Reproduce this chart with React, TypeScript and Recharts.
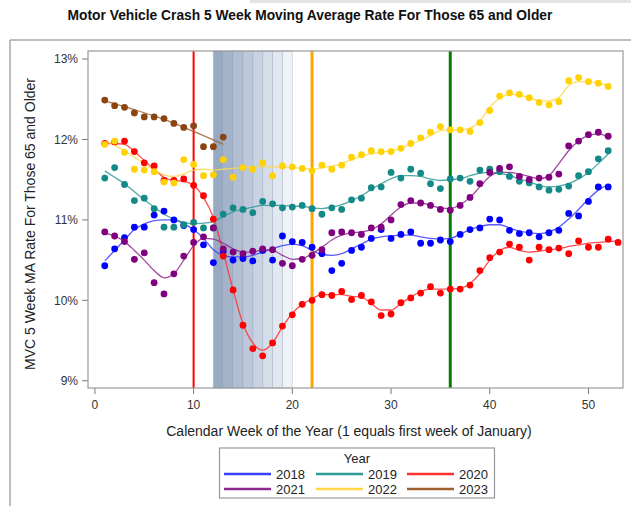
import { ComposedChart, Scatter, Line, XAxis, YAxis, ReferenceLine, ReferenceArea } from 'recharts';

// weeks of the year
const weeks = [1, 2, 3, 4, 5, 6, 7, 8, 9, 10, 11, 12, 13, 14, 15, 16, 17, 18, 19, 20, 21, 22, 23, 24, 25, 26,
  27, 28, 29, 30, 31, 32, 33, 34, 35, 36, 37, 38, 39, 40, 41, 42, 43, 44, 45, 46, 47, 48, 49, 50, 51, 52];
const weeks53 = [...weeks, 53];
const weeks2023 = [1, 2, 3, 4, 5, 6, 7, 8, 9, 10, 11, 12, 13];
const fitWeeks2023 = [1, 4, 7, 10, 13];

// 5 week moving average rate (%), one dot per week
const rate2018 = [10.43, 10.64, 10.78, 10.91, 10.91, 11.06, 11.11, 11.0, 10.93, 10.88, 10.69, 10.47, 10.61, 10.5, 10.52, 10.49, 10.62, 10.5, 10.8, 10.73, 10.72, 10.66, 10.58, 10.37, 10.46, 10.62,
  10.66, 10.77, 10.88, 10.77, 10.82, 10.85, 10.71, 10.71, 10.75, 10.73, 10.82, 10.88, 10.9, 11.01, 11.0, 10.87, 10.83, 10.84, 10.79, 10.84, 10.87, 11.08, 11.05, 11.23, 11.41, 11.41];
const rate2019 = [11.52, 11.65, 11.44, 11.24, 11.27, 11.14, 10.91, 10.91, 10.94, 10.97, 10.9, 10.9, 11.07, 11.15, 11.13, 11.09, 11.23, 11.2, 11.15, 11.16, 11.18, 11.14, 11.07, 11.15, 11.13, 11.25,
  11.27, 11.4, 11.41, 11.59, 11.52, 11.63, 11.58, 11.45, 11.39, 11.51, 11.52, 11.48, 11.62, 11.63, 11.6, 11.54, 11.48, 11.46, 11.41, 11.37, 11.38, 11.42, 11.55, 11.6, 11.76, 11.86];
const rate2020 = [11.95, 11.97, 11.98, 11.85, 11.71, 11.67, 11.49, 11.49, 11.51, 11.43, 11.3, 11.01, 10.55, 10.13, 9.69, 9.4, 9.31, 9.47, 9.68, 9.82, 9.95, 10.0, 10.07, 10.06, 10.11, 10.01,
  10.06, 9.98, 9.81, 9.83, 9.97, 10.03, 10.09, 10.17, 10.09, 10.14, 10.14, 10.19, 10.37, 10.53, 10.6, 10.7, 10.66, 10.5, 10.66, 10.63, 10.65, 10.58, 10.74, 10.66, 10.66, 10.76, 10.72];
const rate2021 = [10.85, 10.8, 10.73, 10.51, 10.59, 10.22, 10.08, 10.33, 10.55, 10.72, 10.79, 10.9, 10.64, 10.6, 10.58, 10.61, 10.64, 10.63, 10.46, 10.43, 10.51, 10.56, 10.63, 10.84, 10.85, 10.84,
  10.82, 10.9, 10.91, 11.0, 11.19, 11.24, 11.21, 11.18, 11.13, 11.12, 11.18, 11.28, 11.45, 11.59, 11.64, 11.66, 11.54, 11.5, 11.52, 11.53, 11.57, 11.92, 11.98, 12.06, 12.09, 12.04];
const rate2022 = [11.94, 11.98, 11.84, 11.63, 11.62, 11.6, 11.47, 11.46, 11.75, 11.69, 11.55, 11.56, 11.75, 11.53, 11.65, 11.63, 11.71, 11.55, 11.67, 11.66, 11.64, 11.61, 11.68, 11.63, 11.68, 11.78,
  11.81, 11.86, 11.85, 11.85, 11.89, 11.95, 12.02, 12.09, 12.16, 12.12, 12.12, 12.1, 12.21, 12.36, 12.54, 12.58, 12.56, 12.52, 12.46, 12.43, 12.47, 12.73, 12.77, 12.72, 12.7, 12.66];
const rate2023 = [12.49, 12.42, 12.4, 12.33, 12.28, 12.28, 12.26, 12.2, 12.15, 12.17, 11.91, 11.91, 12.03];

// smoothed curves
const fit2018 = [10.49, 10.62, 10.75, 10.88, 10.95, 10.99, 11.0, 11.0, 10.95, 10.88, 10.77, 10.63, 10.56, 10.54, 10.54, 10.56, 10.6, 10.64, 10.68, 10.7, 10.68, 10.62, 10.57, 10.56, 10.58, 10.64,
  10.7, 10.76, 10.79, 10.8, 10.81, 10.81, 10.79, 10.77, 10.76, 10.77, 10.82, 10.88, 10.92, 10.94, 10.94, 10.9, 10.86, 10.84, 10.83, 10.85, 10.91, 11.01, 11.13, 11.26, 11.37, 11.44];
const fit2019 = [11.61, 11.53, 11.45, 11.35, 11.25, 11.16, 11.07, 11.01, 10.97, 10.95, 10.96, 10.98, 11.04, 11.1, 11.13, 11.16, 11.18, 11.18, 11.18, 11.17, 11.17, 11.15, 11.14, 11.16, 11.19, 11.24,
  11.3, 11.38, 11.45, 11.51, 11.55, 11.55, 11.54, 11.51, 11.49, 11.5, 11.51, 11.55, 11.58, 11.59, 11.58, 11.55, 11.51, 11.47, 11.43, 11.41, 11.42, 11.45, 11.51, 11.59, 11.7, 11.82];
const fit2020 = [11.95, 11.95, 11.94, 11.85, 11.74, 11.63, 11.53, 11.49, 11.48, 11.43, 11.28, 11.03, 10.6, 10.13, 9.71, 9.47, 9.38, 9.47, 9.67, 9.84, 9.95, 10.02, 10.07, 10.07, 10.07, 10.05,
  10.04, 9.96, 9.88, 9.88, 9.96, 10.04, 10.11, 10.14, 10.14, 10.14, 10.15, 10.21, 10.33, 10.5, 10.62, 10.66, 10.62, 10.6, 10.61, 10.63, 10.64, 10.67, 10.69, 10.71, 10.72, 10.73, 10.74];
const fit2021 = [10.84, 10.8, 10.73, 10.62, 10.5, 10.37, 10.28, 10.33, 10.5, 10.68, 10.77, 10.76, 10.71, 10.64, 10.6, 10.6, 10.63, 10.62, 10.56, 10.51, 10.52, 10.58, 10.66, 10.75, 10.81, 10.84,
  10.85, 10.88, 10.95, 11.06, 11.16, 11.21, 11.21, 11.18, 11.15, 11.14, 11.19, 11.28, 11.41, 11.54, 11.59, 11.59, 11.57, 11.54, 11.51, 11.55, 11.7, 11.86, 11.98, 12.05, 12.07, 12.03];
const fit2022 = [11.98, 11.93, 11.86, 11.78, 11.7, 11.62, 11.56, 11.54, 11.57, 11.62, 11.63, 11.62, 11.63, 11.64, 11.65, 11.66, 11.66, 11.66, 11.66, 11.65, 11.64, 11.63, 11.65, 11.67, 11.7, 11.75,
  11.79, 11.82, 11.84, 11.86, 11.89, 11.94, 11.99, 12.05, 12.11, 12.12, 12.12, 12.14, 12.23, 12.4, 12.51, 12.56, 12.55, 12.52, 12.48, 12.48, 12.52, 12.67, 12.72, 12.72, 12.7, 12.67];
const fit2023 = [12.48, 12.37, 12.25, 12.1, 11.94];

const yearLabels = ['2018', '2019', '2020', '2021', '2022', '2023'];
const dotColors = ['#0000FF', '#138A87', '#FF0000', '#800080', '#FFD200', '#8B4513'];
const lineColors = ['#3D3DFF', '#2E9A94', '#FF3030', '#8E2A8E', '#FFD84A', '#A0602E'];

// shaded weeks (12 to 20), darkest first
const bandStarts = [12, 13, 14, 15, 16, 17, 18, 19];
const bandColors = ['#98A9C2', '#A4B3CA', '#B1BED2', '#BDC8DA', '#C9D2E1', '#D5DDE9', '#E2E8F0', '#EFF3F8'];

const eventWeeks = [10, 22, 36];
const eventColors = ['#FF0000', '#FFA500', '#008000'];

const toPoints = (xs: number[], ys: number[]) => ys.map((v, i) => ({ week: xs[i], v }));

const dots = [
  toPoints(weeks, rate2018),
  toPoints(weeks, rate2019),
  toPoints(weeks53, rate2020),
  toPoints(weeks, rate2021),
  toPoints(weeks, rate2022),
  toPoints(weeks2023, rate2023),
];
const fits = [
  toPoints(weeks, fit2018),
  toPoints(weeks, fit2019),
  toPoints(weeks53, fit2020),
  toPoints(weeks, fit2021),
  toPoints(weeks, fit2022),
  toPoints(fitWeeks2023, fit2023),
];

const font = '"Liberation Sans", Arial, sans-serif';

const Dot = (color: string) => (props: any) => (
  <circle cx={props.cx} cy={props.cy} r={3.4} fill={color} />
);

const LegendBox = () => {
  const cols = [224, 316, 407];
  const rows = [474, 489];
  return (
    <g fontFamily={font} fontSize={13} fill="#222">
      <rect x={219.5} y={448} width={275} height={50} fill="#fff" stroke="#999" strokeWidth={1.2} />
      <text x={357} y={462.5} textAnchor="middle">Year</text>
      {yearLabels.map((lab, i) => {
        const cx = cols[i % 3];
        const cy = rows[Math.floor(i / 3)];
        return (
          <g key={lab}>
            <line x1={cx} x2={cx + 47} y1={cy} y2={cy} stroke={lineColors[i]} strokeWidth={2.5} />
            <text x={cx + 81} y={cy + 4.5} textAnchor="end">{lab}</text>
          </g>
        );
      })}
    </g>
  );
};

export default function App() {
  return (
    <div style={{ position: 'absolute', left: 0, top: 0, width: 631, height: 506, background: '#fff' }}>
      <ComposedChart width={631} height={506} margin={{ top: 51, right: 8, bottom: 88, left: 0 }}>
        <XAxis
          type="number"
          dataKey="week"
          domain={[-0.7, 53.5]}
          ticks={[0, 10, 20, 30, 40, 50]}
          allowDataOverflow
          axisLine={false}
          tickLine={{ stroke: '#777' }}
          tickSize={6}
          tickMargin={6}
          height={30}
          tick={{ fontSize: 12, fill: '#333', fontFamily: font }}
        />
        <YAxis
          type="number"
          dataKey="v"
          domain={[8.91, 13.1]}
          ticks={[9, 10, 11, 12, 13]}
          allowDataOverflow
          tickFormatter={(v: number) => `${v}%`}
          axisLine={false}
          tickLine={{ stroke: '#777' }}
          tickSize={6}
          tickMargin={4}
          width={88}
          tick={{ fontSize: 12, fill: '#333', fontFamily: font }}
        />
        {bandStarts.map((w, i) => (
          <ReferenceArea key={w} x1={w} x2={w + 1} fill={bandColors[i]} fillOpacity={1} stroke="#8C9CB6" strokeOpacity={0.35} strokeWidth={1} />
        ))}
        {eventWeeks.map((w, i) => (
          <ReferenceLine key={w} x={w} stroke={eventColors[i]} strokeWidth={i === 0 ? 2 : 3} />
        ))}
        {dots.map((d, i) => (
          <Scatter key={'s' + i} data={d} dataKey="v" shape={Dot(dotColors[i])} isAnimationActive={false} legendType="none" />
        ))}
        {fits.map((d, i) => (
          <Line
            key={'l' + i}
            data={d}
            dataKey="v"
            type="monotone"
            stroke={lineColors[i]}
            strokeWidth={1.3}
            strokeOpacity={0.85}
            dot={false}
            activeDot={false}
            isAnimationActive={false}
            legendType="none"
          />
        ))}
      </ComposedChart>
      <svg width={631} height={506} style={{ position: 'absolute', left: 0, top: 0, pointerEvents: 'none' }}>
        <rect x={250} y={0} width={381} height={3} fill="#e4e4e4" />
        <line x1={10} y1={40} x2={631} y2={40} stroke="#a8a8a8" strokeWidth={1.5} />
        <line x1={10} y1={40} x2={10} y2={506} stroke="#a8a8a8" strokeWidth={1.5} />
        <rect x={88} y={51} width={535} height={337} fill="none" stroke="#999" strokeWidth={1.2} />
        <text x={310} y={19.5} textAnchor="middle" fontFamily={font} fontWeight="bold" fontSize={13.8} fill="#111">
          Motor Vehicle Crash 5 Week Moving Average Rate For Those 65 and Older
        </text>
        <text
          x={0}
          y={0}
          transform="translate(35,224) rotate(-90)"
          textAnchor="middle"
          fontFamily={font}
          fontSize={14}
          fill="#222"
        >
          MVC 5 Week MA Rate For Those 65 and Older
        </text>
        <text x={349} y={436} textAnchor="middle" fontFamily={font} fontSize={14} fill="#222">
          Calendar Week of the Year (1 equals first week of January)
        </text>
        <LegendBox />
      </svg>
    </div>
  );
}
